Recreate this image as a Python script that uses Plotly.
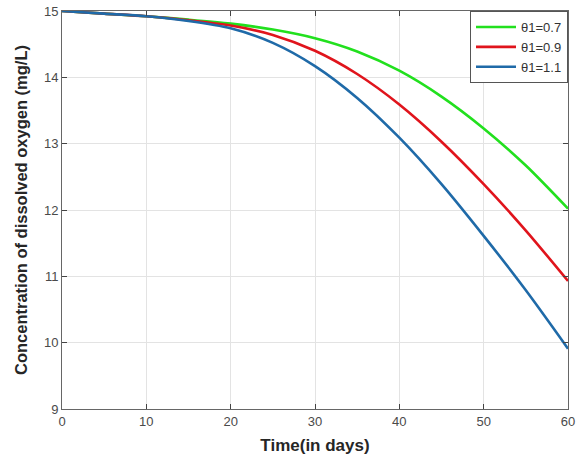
import plotly.graph_objects as go

days = [0, 5, 10, 15, 20, 25, 30, 35, 40, 45, 50, 55, 60]
do_theta_07 = [15, 14.96, 14.92, 14.87, 14.81, 14.72, 14.59, 14.39, 14.10, 13.71, 13.23, 12.67, 12.02]
do_theta_09 = [15, 14.96, 14.92, 14.86, 14.78, 14.64, 14.40, 14.05, 13.59, 13.03, 12.39, 11.69, 10.93]
do_theta_11 = [15, 14.96, 14.92, 14.85, 14.74, 14.52, 14.17, 13.69, 13.09, 12.39, 11.61, 10.79, 9.91]
series_names = ["θ1=0.7", "θ1=0.9", "θ1=1.1"]
colors = ["#22e01e", "#e0141c", "#1f6aa8"]

fig = go.Figure()
for name, ys, c in zip(series_names, [do_theta_07, do_theta_09, do_theta_11], colors):
    fig.add_trace(go.Scatter(x=days, y=ys, mode="lines", name=name,
                             line=dict(color=c, width=2.6, shape="spline", smoothing=0.8)))

axis_common = dict(showline=True, linecolor="#666666", linewidth=1, mirror="ticks",
                   ticks="inside", ticklen=5, tickcolor="#444444", automargin=False,
                   showgrid=True, gridcolor="#e3e3e3", gridwidth=1, zeroline=False,
                   tickfont=dict(family="Liberation Sans, Arial", size=13, color="#4a4a4a"))

fig.update_xaxes(range=[0, 60], tickvals=[0, 10, 20, 30, 40, 50, 60],
                 title=dict(text="<b>Time(in days)</b>", standoff=11,
                            font=dict(family="Liberation Sans, Arial", size=17, color="#262626")),
                 **axis_common)
fig.update_yaxes(range=[9, 15], tickvals=[9, 10, 11, 12, 13, 14, 15],
                 title=dict(text="<b>Concentration of dissolved oxygen (mg/L)</b>", standoff=12,
                            font=dict(family="Liberation Sans, Arial", size=16.5, color="#262626")),
                 **axis_common)

fig.update_layout(
    width=576, height=463,
    margin=dict(l=62, r=8, t=11, b=54),
    paper_bgcolor="white", plot_bgcolor="white",
    showlegend=True,
    legend=dict(x=1, y=1, xanchor="right", yanchor="top",
                bgcolor="white", bordercolor="#555555", borderwidth=1,
                font=dict(family="Liberation Sans, Arial", size=13, color="#333333"),
                tracegroupgap=0, itemwidth=40),
)

fig.write_html("out.html", config={"displayModeBar": False},
               post_script="document.body.style.margin='0';document.body.style.padding='0';")
